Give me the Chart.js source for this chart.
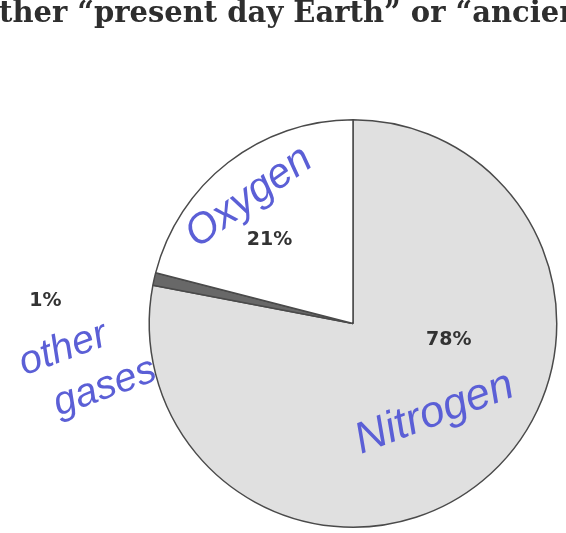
<!DOCTYPE html>
<html>
<head>
<meta charset="utf-8">
<script src="https://cdn.jsdelivr.net/npm/chart.js@4/dist/chart.umd.min.js"></script>
<style>
  html, body { margin: 0; padding: 0; background: #fff; }
  #wrap { position: relative; width: 566px; height: 533px; overflow: hidden; }
  #title { position: absolute; left: -1px; top: -5px; white-space: nowrap;
           font-family: "DejaVu Serif", serif; font-weight: bold; font-size: 29px; color: #2e2e2e; }
  #c { position: absolute; left: 0; top: 0; }
</style>
</head>
<body>
<div id="wrap">
  <canvas id="c" width="566" height="533"></canvas>
  <div id="title">ther “present day Earth” or “ancien</div>
</div>
<script>
const categories = ["Nitrogen", "Other gases", "Oxygen"];
const values = [78, 1, 21];
const percentLabels = ["78%", "1%", "21%"];
const handLabels = ["Nitrogen", "other\ngases", "Oxygen"];
const sliceColors = ["#e0e0e0", "#686868", "#ffffff"];

const labelPlugin = {
  id: 'pieLabels',
  afterDatasetsDraw(chart) {
    const ctx = chart.ctx;
    const arcs = chart.getDatasetMeta(0).data;
    // offsets from pie centre as fractions of radius
    const pctPos = [[0.47, 0.08], [-1.51, -0.11], [-0.41, -0.41]];
    ctx.save();
    ctx.fillStyle = "#333";
    ctx.font = "bold 19px 'DejaVu Sans', sans-serif";
    ctx.textAlign = "center";
    ctx.textBaseline = "middle";
    arcs.forEach((a, i) => {
      const r = a.outerRadius;
      ctx.fillText(percentLabels[i], a.x + pctPos[i][0] * r, a.y + pctPos[i][1] * r);
    });
    // handwritten annotations: dx, dy, rotation, size
    ctx.fillStyle = "#5b5fd6";
    const hand = [[0.40, 0.44, -0.36, 44], [-1.32, 0.22, -0.35, 40], [-0.51, -0.62, -0.62, 42]];
    arcs.forEach((a, i) => {
      const r = a.outerRadius;
      const x = a.x + hand[i][0] * r, y = a.y + hand[i][1] * r;
      ctx.save();
      ctx.translate(x, y);
      ctx.rotate(hand[i][2]);
      ctx.font = "italic " + hand[i][3] + "px 'Liberation Sans', sans-serif";
      const lines = handLabels[i].split("\n");
      lines.forEach((ln, k) => ctx.fillText(ln, (k - (lines.length - 1) / 2) * 26, (k - (lines.length - 1) / 2) * 50));
      ctx.restore();
    });
    ctx.restore();
  }
};

new Chart(document.getElementById('c'), {
  type: 'pie',
  data: {
    labels: categories,
    datasets: [{
      data: values,
      backgroundColor: sliceColors,
      borderColor: "#4a4a4a",
      borderWidth: 1.5
    }]
  },
  options: {
    responsive: false,
    animation: false,
    events: [],
    layout: { padding: { left: 147, right: 7, top: 119, bottom: 5 } },
    plugins: { legend: { display: false }, tooltip: { enabled: false } }
  },
  plugins: [labelPlugin]
});
</script>
</body>
</html>
